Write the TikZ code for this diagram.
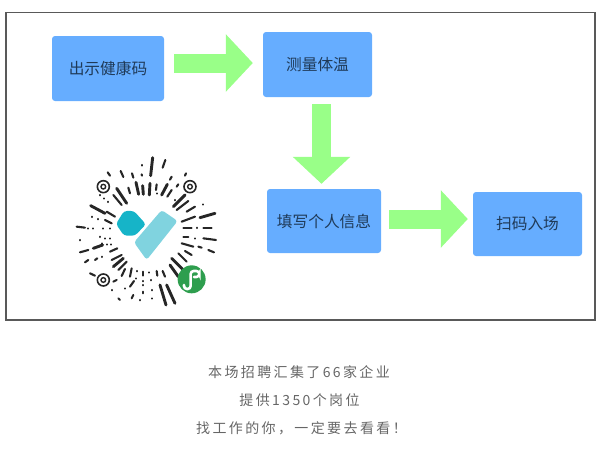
\documentclass[tikz,border=0pt]{standalone}
\usepackage{fontspec}
\usepackage{xcolor}
\setmainfont{Noto Sans CJK SC}
\newfontfamily\captionfont[LetterSpace=17]{Noto Sans CJK SC}
\usetikzlibrary{arrows.meta}
\definecolor{boxblue}{HTML}{66ADFF}
\definecolor{boxtext}{HTML}{1F3A58}
\definecolor{arrowgreen}{HTML}{99FF88}
\definecolor{captiongray}{HTML}{666666}
\definecolor{qrteal}{HTML}{16B4C8}
\definecolor{qrlight}{HTML}{80D3DF}
\definecolor{qrgreen}{HTML}{2E9E4E}
\tikzset{
  stepbox/.style={fill=boxblue,rounded corners=3pt,inner sep=0pt,text=boxtext,font=\fontsize{15.7}{18}\selectfont},
  flowarrow/.style={arrowgreen,line width=19pt,-{Triangle[length=27pt,width=56pt]}},
  captionline/.style={text=captiongray,inner sep=0pt,font=\fontsize{14}{16}\selectfont\captionfont},
  qrdash/.style={draw=black!85,line width=2.1pt,line cap=round},
  qrbar/.style={draw=black!85,line width=2.9pt,line cap=round}
}
\begin{document}
\begin{tikzpicture}
  [x=1pt,y=-1pt]
  \useasboundingbox (0,0) rectangle (603,448);
  \draw[draw=black!65,line width=1.3pt] (6,12.5) rectangle (595,320);

  \node[stepbox,minimum width=112pt,minimum height=65pt] (health) at (108,68.5) {出示健康码};
  \node[stepbox,minimum width=109pt,minimum height=65pt] (measure) at (317.5,64.5) {测量体温};
  \node[stepbox,minimum width=114pt,minimum height=64pt] (fill) at (324,221) {填写个人信息};
  \node[stepbox,minimum width=109pt,minimum height=64pt] (scan) at (527.5,224) {扫码入场};

  \draw[flowarrow,shorten <=10pt,shorten >=10pt] ([yshift=5.5pt]health.east) -- ([yshift=1.5pt]measure.west);
  \draw[flowarrow,shorten <=7pt,shorten >=5pt] ([xshift=4pt]measure.south) -- ([xshift=-2.5pt]fill.north);
  \draw[flowarrow,shorten <=8pt,shorten >=5pt] ([yshift=2pt]fill.east) -- ([yshift=5pt]scan.west);

  % qr code
  \begin{scope}[shift={(60,145)},scale=.3333]
    \foreach \xa/\ya/\xb/\yb in {316/45/308/68,245/60/245/62,143/82/150/92,182/78/190/96,216/85/220/98,
      245/88/246/92,335/95/330/104,378/85/375/92,355/118/350/125,205/128/210/145,290/118/288/135,
      335/135/322/155,160/150/185/180,290/145/290/146,120/150/120/151,132/160/132/161,145/170/145/171,
      385/168/350/195,345/165/345/166,430/178/430/179,405/185/380/200,140/200/165/215,95/215/95/216,
      115/222/115/223,135/225/155/235,405/215/365/230,50/245/75/248,85/250/85/251,100/250/100/251,
      130/250/130/251,150/250/150/251,370/250/395/250,430/248/455/248,410/248/410/249,370/275/385/275,
      405/280/405/281,430/280/468/285,120/275/120/276,135/280/135/281,150/280/150/281,60/285/60/286,
      125/295/125/296,140/298/140/299,152/298/152/299,365/295/400/305,415/305/425/308,445/315/462/322,
      60/322/85/315,150/320/172/310,375/318/395/330,75/352/85/345,105/345/112/340,125/335/125/336,
      155/345/185/330,355/325/380/350,175/375/200/350,185/393/195/372,210/395/215/370,90/385/105/392,
      232/378/232/379,250/380/250/392,268/382/268/383,290/378/292/392,308/378/315/395,228/400/228/401,
      248/408/248/409,272/405/272/406,210/425/222/408,160/410/170/405,175/460/180/465,215/460/220/450,
      250/420/250/421,250/440/250/445,275/435/275/436,275/460/275/461,240/465/240/466,155/435/155/436,
      195/430/195/431}
      \draw[qrdash] (\xa,\ya) -- (\xb,\yb);
    \foreach \xa/\ya/\xb/\yb in {278/38/272/92,228/112/236/148,248/122/250/148,270/115/268/150,
      322/118/305/150,170/130/200/175,375/150/340/185,92/182/135/205,465/205/420/218,100/310/128/300,
      160/365/190/340,335/340/370/375,330/360/355/395,300/420/318/480,320/420/345/475}
      \draw[qrbar] (\xa,\ya) -- (\xb,\yb);
    \foreach \cx/\cy in {130/125,390/125,130/405}
      {
        \draw[black!85,line width=1.6pt] (\cx,\cy) circle (18);
        \draw[black!85,line width=1.4pt] (\cx,\cy) circle (7);
      }
    \fill[qrteal,rounded corners=3pt] (168,237) -- (192,198) -- (222,198) -- (258,238) -- (225,272) -- (192,272) -- cycle;
    \fill[qrlight,rounded corners=3pt] (222,292) -- (305,195) -- (353,228) -- (260,345) -- cycle;
    \fill[qrgreen] (395,403) circle (42);
    \draw[white,line width=2.6pt,line cap=round,rounded corners=3pt] (372,420) -- (372,432) -- (392,432) -- (392,378) -- (418,378) -- (418,396) -- (402,396);
  \end{scope}

  \node[captionline] (lineone) at (299,372) {本场招聘汇集了66家企业};
  \node[captionline] (linetwo) at (299.5,400) {提供1350个岗位};
  \node[captionline] (linethree) at (301.5,428) {找工作的你，一定要去看看！};

\end{tikzpicture}
\end{document}
